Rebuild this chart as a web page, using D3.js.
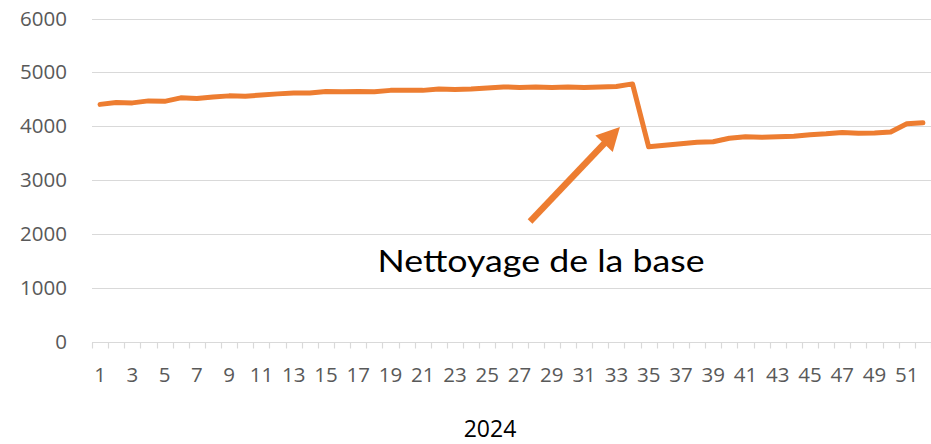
<!DOCTYPE html>
<html>
<head>
<meta charset="utf-8">
<script src="https://cdn.jsdelivr.net/npm/d3@7/dist/d3.min.js"></script>
<style>
  html, body { margin: 0; padding: 0; background: #ffffff; }
  svg { display: block; }
</style>
</head>
<body>
<svg id="chart" width="931" height="444"></svg>
<script>
// ---- Data ----
const weeks = d3.range(1, 53);
const values = [
  4407, 4444, 4435, 4472, 4463, 4528, 4518, 4546, 4565, 4556,
  4583, 4602, 4620, 4620, 4648, 4640, 4648, 4640, 4667, 4667,
  4667, 4694, 4685, 4694, 4713, 4731, 4722, 4731, 4722, 4731,
  4722, 4731, 4740, 4787, 3620, 3648, 3676, 3704, 3713, 3778,
  3806, 3796, 3806, 3815, 3845, 3861, 3885, 3872, 3875, 3895,
  4046, 4065
];
const yTicks = [0, 1000, 2000, 3000, 4000, 5000, 6000];
const xTickLabels = weeks.filter(w => w % 2 === 1);
const axisTitle = "2024";
const annotationText = "Nettoyage de la base";
// annotation arrow in data units: [week position, value]
const arrowTail = [27.65, 2236];
const arrowTip = [33.22, 3987];
const annotationAnchor = [18.2, 1290];

// ---- Layout ----
const svg = d3.select("#chart");
const mLeft = 92, mRight = 931, mTop = 18.5, mBottom = 342;
const orange = "#ED7D31";
const grid = "#d9d9d9";

const x = d3.scaleBand().domain(weeks).range([mLeft, mRight]).paddingInner(0).paddingOuter(0);
const xl = d3.scaleLinear().domain([0.5, 52.5]).range([mLeft, mRight]);
const y = d3.scaleLinear().domain([0, 6000]).range([mBottom, mTop]);

// gridlines
svg.append("g").selectAll("line").data(yTicks.filter(t => t > 0)).join("line")
  .attr("x1", mLeft).attr("x2", mRight)
  .attr("y1", d => Math.round(y(d)) + 0.5).attr("y2", d => Math.round(y(d)) + 0.5)
  .attr("stroke", grid).attr("stroke-width", 1);

// x axis line + boundary ticks
const axisY = Math.round(y(0)) + 0.5;
svg.append("line").attr("x1", mLeft).attr("x2", mRight).attr("y1", axisY).attr("y2", axisY)
  .attr("stroke", grid).attr("stroke-width", 1.2);
const bounds = weeks.map(w => x(w)).concat([mRight - 0.5]);
svg.append("g").selectAll("line").data(bounds).join("line")
  .attr("x1", d => Math.round(d) + 0.5).attr("x2", d => Math.round(d) + 0.5)
  .attr("y1", axisY).attr("y2", axisY + 6)
  .attr("stroke", grid).attr("stroke-width", 1.2);

// y labels
const yAxis = d3.axisLeft(y).tickValues(yTicks).tickSize(0).tickPadding(0).tickFormat(d3.format("d"));
const gy = svg.append("g").attr("transform", `translate(${mLeft - 25},0)`).call(yAxis);
gy.select(".domain").remove();
gy.selectAll("text").attr("fill", "#595959").style("font-family", "'Open Sans', sans-serif").style("font-size", "20.5px");

// x labels
const xAxis = d3.axisBottom(x).tickValues(xTickLabels).tickSize(0).tickPadding(0);
const gx = svg.append("g").attr("transform", `translate(0,${mBottom + 25})`).call(xAxis);
gx.select(".domain").remove();
gx.selectAll("text").attr("fill", "#595959").style("font-family", "'Open Sans', sans-serif").style("font-size", "20.5px");

// axis title
svg.append("text").attr("x", 490).attr("y", 437)
  .attr("text-anchor", "middle").attr("fill", "#000")
  .style("font-family", "'Open Sans', sans-serif").style("font-size", "23px")
  .text(axisTitle);

// data line
const line = d3.line().x((d, i) => x(weeks[i]) + x.bandwidth() / 2).y(d => y(d));
svg.append("path").datum(values).attr("d", line)
  .attr("fill", "none").attr("stroke", orange).attr("stroke-width", 5)
  .attr("stroke-linejoin", "round").attr("stroke-linecap", "round");

// annotation arrow
const T = [xl(arrowTip[0]), y(arrowTip[1])];
const S = [xl(arrowTail[0]), y(arrowTail[1])];
const len = Math.hypot(T[0] - S[0], T[1] - S[1]);
const u = [(T[0] - S[0]) / len, (T[1] - S[1]) / len];
const n = [-u[1], u[0]];
const headLen = 23, headHalf = 12;
const B = [T[0] - headLen * u[0], T[1] - headLen * u[1]];
svg.append("line").attr("x1", S[0]).attr("y1", S[1]).attr("x2", B[0] + 2 * u[0]).attr("y2", B[1] + 2 * u[1])
  .attr("stroke", orange).attr("stroke-width", 6.5);
svg.append("polygon")
  .attr("points", [T, [B[0] + headHalf * n[0], B[1] + headHalf * n[1]], [B[0] - headHalf * n[0], B[1] - headHalf * n[1]]].map(p => p.join(",")).join(" "))
  .attr("fill", orange);

// annotation text
svg.append("text").attr("x", xl(annotationAnchor[0])).attr("y", y(annotationAnchor[1]))
  .attr("fill", "#000")
  .style("font-family", "'Lato', sans-serif").style("font-size", "31px")
  .attr("textLength", 327).attr("lengthAdjust", "spacingAndGlyphs")
  .text(annotationText);
</script>
</body>
</html>
